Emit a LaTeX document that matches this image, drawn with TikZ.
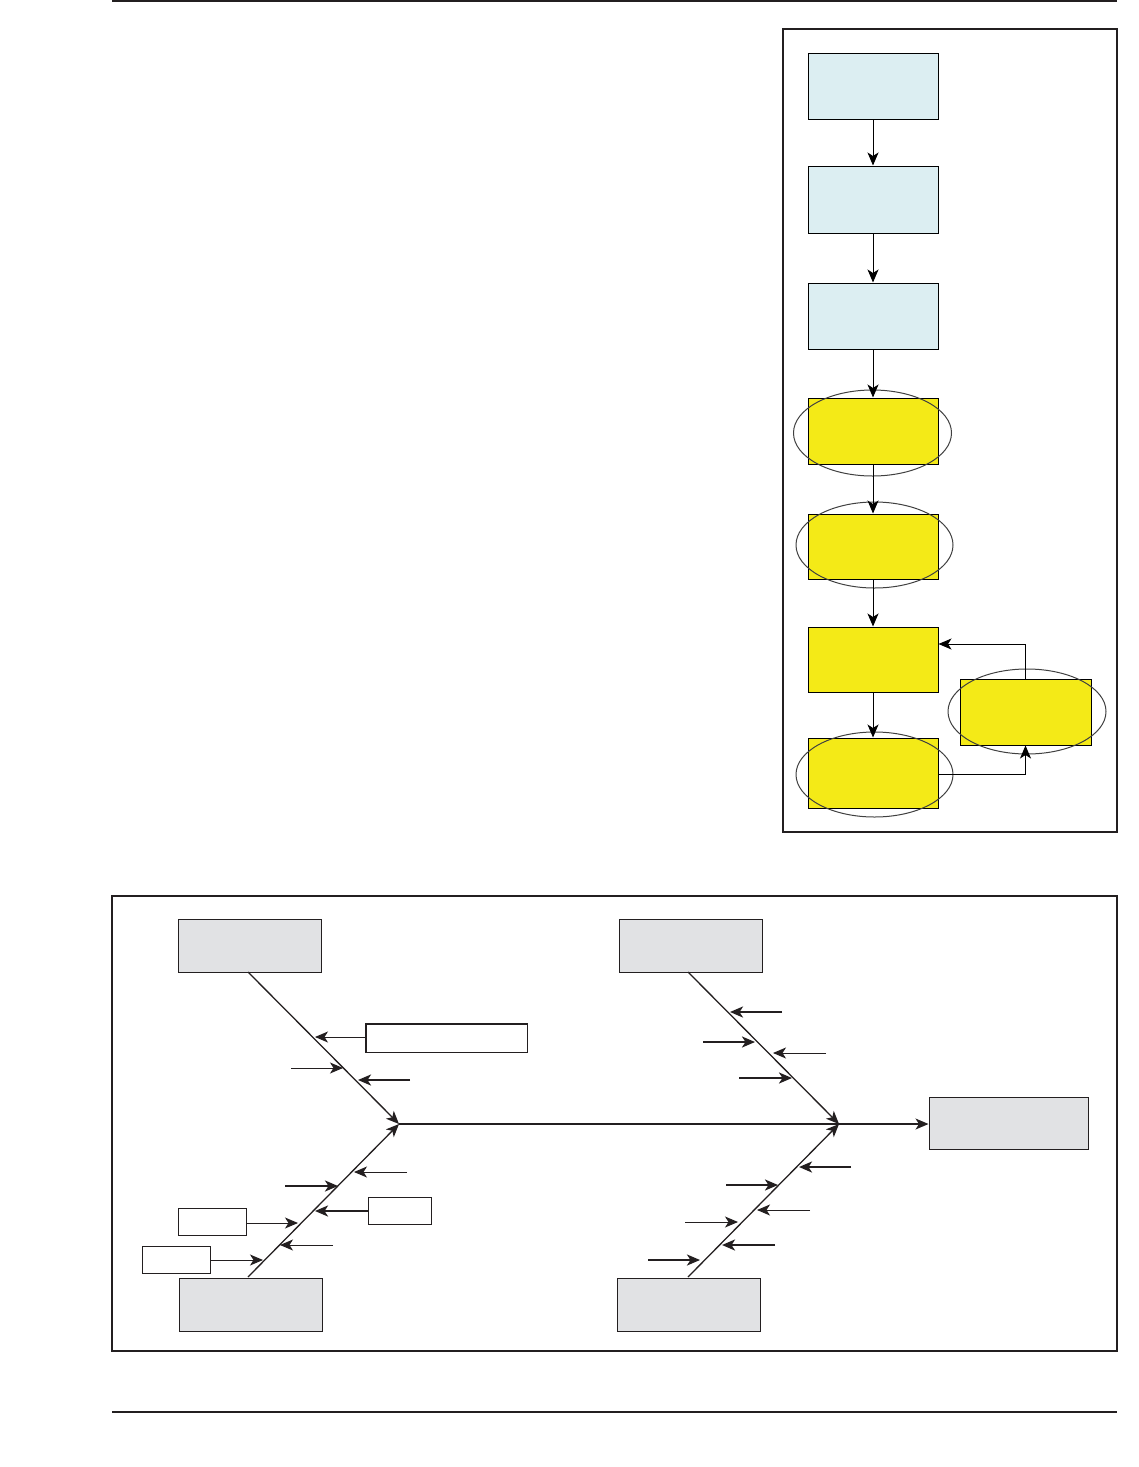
\documentclass[tikz,border=0pt]{standalone}
\usetikzlibrary{arrows.meta,calc}
\definecolor{frameC}{HTML}{231F20}
\definecolor{lblue}{HTML}{DCEEF2}
\definecolor{yel}{HTML}{F4EA17}
\definecolor{gry}{HTML}{E1E2E4}
\begin{document}
\begin{tikzpicture}[x=1pt,y=-1pt,
  tip/.style={-{Stealth[length=13pt,width=11pt,inset=3.5pt]}},
  flowbox/.style={draw=black,line width=1pt,minimum width=130pt,minimum height=66pt,inner sep=0pt,anchor=center},
  bluebox/.style={flowbox,fill=lblue},
  yelbox/.style={flowbox,fill=yel},
  causebox/.style={draw=frameC,line width=1pt,fill=gry,minimum width=143pt,minimum height=53pt,inner sep=0pt},
  smallbox/.style={draw=frameC,line width=1pt,fill=white,inner sep=0pt},
  ring/.style={draw=black!75,line width=1pt},
  flowarrow/.style={tip,line width=1pt,draw=black},
  bone/.style={tip,line width=1.3pt,draw=frameC},
  thinar/.style={tip,line width=1pt,draw=frameC},
  thickar/.style={tip,line width=2.4pt,draw=frameC},
  frameline/.style={draw=frameC,line width=1.3pt}]
\useasboundingbox (0,0) rectangle (1139,1467);
% page rules
\draw[frameline] (112,1) -- (1117,1);
\draw[frameline] (112,1412) -- (1117,1412);
% right panel frame
\draw[frameline] (783,29) rectangle (1117,832);
% flow boxes
\node[bluebox] (b1) at (873,86) {};
\node[bluebox,minimum height=67pt] (b2) at (873,199.5) {};
\node[bluebox] (b3) at (873,316) {};
\node[yelbox] (b4) at (873,431) {};
\node[yelbox,minimum height=65pt] (b5) at (873,546.5) {};
\node[yelbox,minimum height=65pt] (b6) at (873,659.5) {};
\node[yelbox,minimum height=70pt] (b7) at (873,773) {};
\node[yelbox,minimum width=131pt] (b8) at (1025.5,712) {};
% ellipses
\draw[ring] (872.5,433) ellipse [x radius=79pt,y radius=43pt];
\draw[ring] (874.5,545) ellipse [x radius=78.5pt,y radius=43pt];
\draw[ring] (874.5,774.5) ellipse [x radius=78.5pt,y radius=42.5pt];
\draw[ring] (1027,711.5) ellipse [x radius=79pt,y radius=42.5pt];
% flow arrows
\draw[flowarrow] (b1) -- (b2);
\draw[flowarrow] (b2) -- (b3);
\draw[flowarrow] (b3) -- (b4);
\draw[flowarrow] (b4) -- (b5);
\draw[flowarrow] (b5) -- (b6);
\draw[flowarrow] (b6) -- (b7);
\draw[flowarrow] ([yshift=-1pt]b7.east) -| (b8.south);
\draw[flowarrow] (b8.north) |- ([yshift=15.5pt]b6.east);
% fishbone frame
\draw[frameline] (112,896) rectangle (1117,1351);
% cause boxes and effect
\node[causebox] (c1) at (250,945.5) {};
\node[causebox] (c2) at (690.5,945.5) {};
\node[causebox] (c3) at (251,1305) {};
\node[causebox] (c4) at (688.5,1305) {};
\node[causebox,minimum width=159pt,minimum height=52pt] (eff) at (1008.5,1123) {};
% junctions
\coordinate (j1) at (399,1124);
\coordinate (j2) at (839,1124);
% spine
\draw[line width=1.3pt,draw=frameC] (j1) -- (j2);
\draw[bone] (j2) -- (eff.west |- j2);
% bones
\draw[bone] (248,972) -- (j1);
\draw[bone] (248,1277) -- (j1);
\draw[bone] (688,972) -- (j2);
\draw[bone] (688,1277) -- (j2);
% small boxes
\node[smallbox,minimum width=161pt,minimum height=28pt] (sb1) at (446.5,1038) {};
\draw[frameC,line width=1.3pt] (sb1.south west) |- (sb1.north east);
\node[smallbox,minimum width=63pt,minimum height=27pt] (sb2) at (399.5,1210.5) {};
\node[smallbox,minimum width=68pt,minimum height=27pt] (sb3) at (212,1221.5) {};
\node[smallbox,minimum width=68pt,minimum height=27pt] (sb4) at (176,1259.5) {};
% upper-left sub-arrows
\coordinate (ul1) at (315,1037);
\draw[thinar] (sb1.west |- ul1) -- (ul1);
\coordinate (ul2s) at (291,1068); \coordinate (ul2) at (343,1068);
\draw[thinar] (ul2s) -- (ul2);
\coordinate (ul3s) at (410,1080); \coordinate (ul3) at (358,1080);
\draw[thickar] (ul3s) -- (ul3);
% lower-left sub-arrows
\coordinate (ll1s) at (407,1172); \coordinate (ll1) at (354,1172);
\draw[thinar] (ll1s) -- (ll1);
\coordinate (ll2s) at (285,1186); \coordinate (ll2) at (338,1186);
\draw[thickar] (ll2s) -- (ll2);
\coordinate (ll3) at (315,1211);
\draw[thickar] (sb2.west |- ll3) -- (ll3);
\coordinate (ll4) at (298,1223);
\draw[thinar] (sb3.east |- ll4) -- (ll4);
\coordinate (ll5s) at (333,1245); \coordinate (ll5) at (280,1245);
\draw[thinar] (ll5s) -- (ll5);
\coordinate (ll6) at (263,1260);
\draw[thinar] (sb4.east |- ll6) -- (ll6);
% upper-right sub-arrows
\coordinate (ur1s) at (782,1012); \coordinate (ur1) at (730,1012);
\draw[thickar] (ur1s) -- (ur1);
\coordinate (ur2s) at (703,1042); \coordinate (ur2) at (755,1042);
\draw[thickar] (ur2s) -- (ur2);
\coordinate (ur3s) at (826,1053); \coordinate (ur3) at (773,1053);
\draw[thinar] (ur3s) -- (ur3);
\coordinate (ur4s) at (739,1078); \coordinate (ur4) at (792,1078);
\draw[thickar] (ur4s) -- (ur4);
% lower-right sub-arrows
\coordinate (lr1s) at (851,1167); \coordinate (lr1) at (799,1167);
\draw[thickar] (lr1s) -- (lr1);
\coordinate (lr2s) at (726,1185); \coordinate (lr2) at (778,1185);
\draw[thickar] (lr2s) -- (lr2);
\coordinate (lr3s) at (810,1210); \coordinate (lr3) at (757,1210);
\draw[thinar] (lr3s) -- (lr3);
\coordinate (lr4s) at (685,1222); \coordinate (lr4) at (738,1222);
\draw[thinar] (lr4s) -- (lr4);
\coordinate (lr5s) at (775,1245); \coordinate (lr5) at (722,1245);
\draw[thickar] (lr5s) -- (lr5);
\coordinate (lr6s) at (648,1260); \coordinate (lr6) at (700,1260);
\draw[thickar] (lr6s) -- (lr6);
\end{tikzpicture}
\end{document}
